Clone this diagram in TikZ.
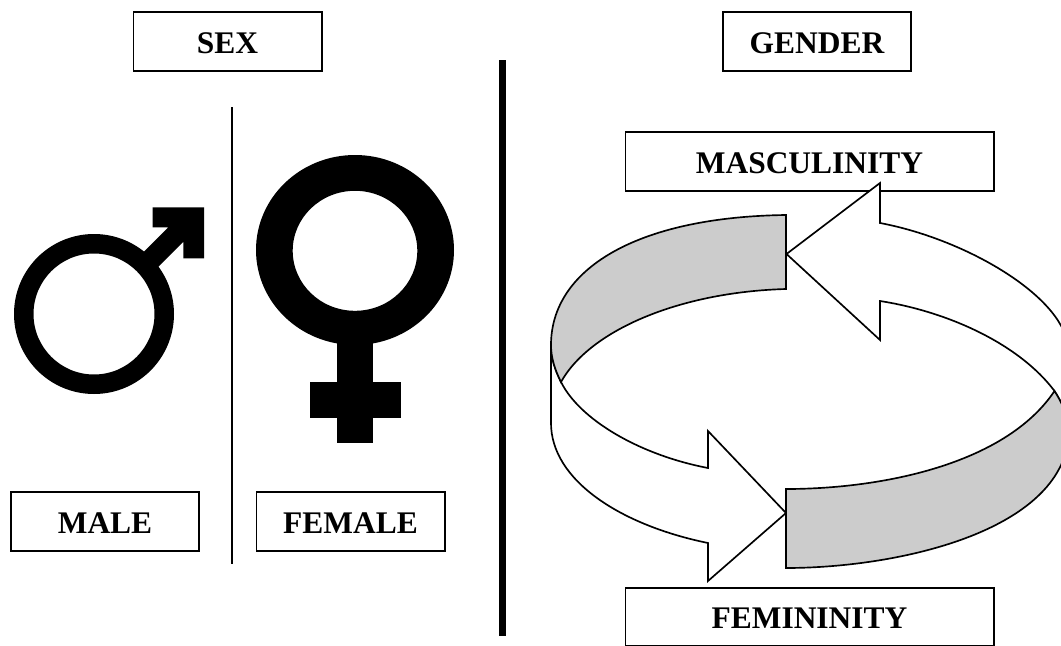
\documentclass[tikz,border=0pt]{standalone}
\usepackage{fontspec}
\setmainfont{Liberation Serif}

\definecolor{bandgray}{HTML}{CCCCCC}

\tikzstyle{boxstyle} = [draw, line width=1.3pt, fill=white, text centered, inner sep=0, minimum width=141.2pt, text height=30.8pt, text depth=13.2pt, font=\bfseries\fontsize{23.6}{28}\selectfont]
\tikzstyle{widebox} = [boxstyle, minimum width=276.2pt]
\tikzstyle{bandline} = [draw, line width=1.25pt, line join=miter]

\begin{document}
\begin{tikzpicture}[x=0.75pt, y=-0.75pt]
  \useasboundingbox (0,0) rectangle (1061,646);

  \node at (227.5, 41.5) [boxstyle] (sex) {SEX};
  \node at (817, 41.5) [boxstyle] (gender) {GENDER};
  \node at (105, 521.5) [boxstyle] (male) {MALE};
  \node at (350.5, 521.5) [boxstyle] (female) {FEMALE};
  \node at (809.5, 161.5) [widebox] (masculinity) {MASCULINITY};
  \node at (809.5, 617) [widebox] (femininity) {FEMININITY};

  \coordinate (thinT) at (232, 107);
  \coordinate (thinB) at (232, 564);
  \coordinate (thickT) at (502.5, 60);
  \coordinate (thickB) at (502.5, 636);
  \draw[line width=1.4pt] (thinT) -- (thinB);
  \draw[line width=5.2pt] (thickT) -- (thickB);

  % male symbol
  \fill[even odd rule] (94, 314) circle [radius=80] (94, 314) circle [radius=60.5];
  \fill (152.7, 207.3) -- (204, 207.3) -- (204, 258.3) -- (183.3, 258.3) -- (183.3, 241.7)
     -- (157.3, 267.7) -- (143.3, 252.3) -- (168.3, 227.3) -- (152.7, 227.3) -- cycle;

  % female symbol
  \fill[even odd rule] (355, 250) ellipse [x radius=99, y radius=95] (355, 250.8) ellipse [x radius=62.3, y radius=60];
  \fill (336.7, 340) rectangle (373.3, 443.3);
  \fill (310, 381.7) rectangle (400.7, 417.7);

  % arrow heading for masculinity
  \path[bandline, fill=white]
     (786.5, 254) -- (880, 183) -- (880, 223)
     .. controls (970, 240) and (1068, 300) .. (1068, 350)
     -- (1069, 430)
     .. controls (1068, 415) and (1062, 403) .. (1054.5, 391)
     .. controls (1020, 345) and (950, 312) .. (880, 301)
     -- (880, 340) -- cycle;

  % arrow heading for femininity
  \path[bandline, fill=white]
     (786, 513) -- (708, 431) -- (708, 468)
     .. controls (640, 455) and (580, 420) .. (561, 382)
     .. controls (555, 370) and (551, 358) .. (551, 345)
     -- (551, 423)
     .. controls (551, 480) and (620, 525) .. (708, 543)
     -- (708, 581) -- cycle;

  % gray bands
  \path[bandline, fill=bandgray]
     (786, 215)
     .. controls (635, 217) and (551, 270) .. (551, 345)
     .. controls (551, 358) and (555, 370) .. (561, 382)
     .. controls (590, 330) and (680, 292) .. (786, 289) -- cycle;
  \path[bandline, fill=bandgray]
     (786, 489)
     .. controls (880, 489) and (1005, 465) .. (1054.5, 391)
     .. controls (1062, 403) and (1068, 415) .. (1069, 430)
     .. controls (1068, 530) and (900, 568) .. (786, 568) -- cycle;
\end{tikzpicture}
\end{document}
